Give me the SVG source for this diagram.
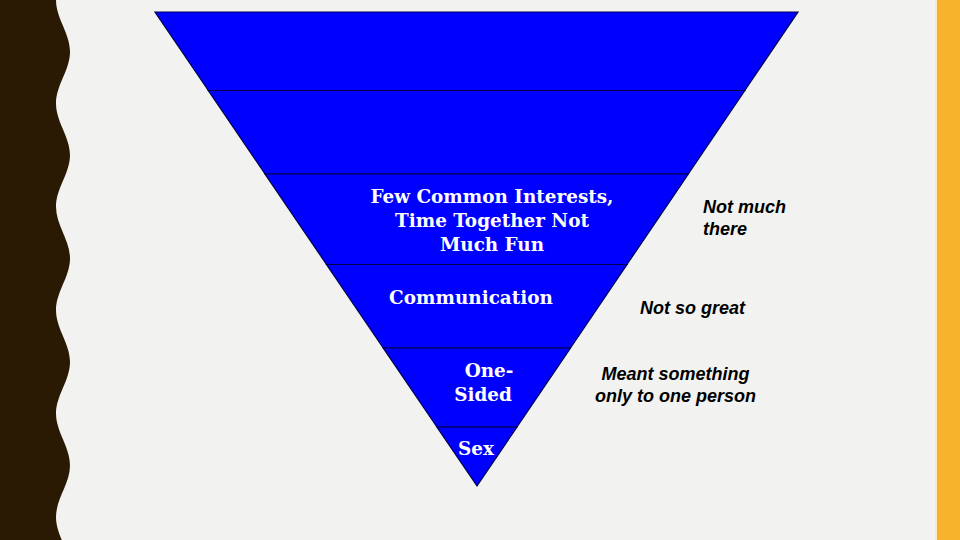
<svg xmlns="http://www.w3.org/2000/svg" width="960" height="540" viewBox="0 0 960 540">
  <style>
    .band { fill: #0000FF; stroke: #00004A; stroke-width: 1.2; stroke-linejoin: miter; }
    .in { font-family: "DejaVu Serif", "Liberation Serif", serif; font-weight: bold; font-size: 18.4px; fill: #FFFFFF; text-anchor: middle; }
    .out { font-family: "Liberation Sans", Arial, sans-serif; font-weight: bold; font-style: italic; font-size: 18px; fill: #000000; }
  </style>
  <rect x="0" y="0" width="960" height="540" fill="#F2F2F0"/>
  <path id="left-wave" fill="#2A1A04" d="M0,0 H56 C56,18.6 70,33.1 70,51.7 S56,84.8 56,103.4 S70,136.5 70,155.1 S56,188.2 56,206.8 S70,239.9 70,258.5 S56,291.6 56,310.2 S70,343.3 70,361.9 S56,395 56,413.6 S70,446.7 70,465.3 S56,498.4 56,517 S70,550.1 70,568.7 V540 H0 Z"/>
  <rect x="935" y="0" width="2" height="540" fill="#FBEBC2"/>
  <rect x="937" y="0" width="23" height="540" fill="#F7B32B"/>

  <g id="band-1">
    <polygon class="band" points="155,12 798,12 744.8,90.5 208.3,90.5"/>
  </g>
  <g id="band-2">
    <polygon class="band" points="208.3,90.5 744.8,90.5 688.3,174 265,174"/>
  </g>
  <g id="band-3">
    <polygon class="band" points="265,174 688.3,174 627,264.5 326.5,264.5"/>
    <text class="in" x="492" y="203">Few Common Interests,</text>
    <text class="in" x="492" y="227">Time Together Not</text>
    <text class="in" x="492" y="251">Much Fun</text>
  </g>
  <g id="band-4">
    <polygon class="band" points="326.5,264.5 627,264.5 570.5,348 383.2,348"/>
    <text class="in" x="471" y="304">Communication</text>
  </g>
  <g id="band-5">
    <polygon class="band" points="383.2,348 570.5,348 517,427 436.9,427"/>
    <text class="in" x="489" y="377">One-</text>
    <text class="in" x="483" y="401">Sided</text>
  </g>
  <g id="band-6">
    <polygon class="band" points="436.9,427 517,427 477,486"/>
    <text class="in" x="476" y="455">Sex</text>
  </g>

  <g id="label-not-much">
    <text class="out" x="703" y="213">Not much</text>
    <text class="out" x="703" y="235">there</text>
  </g>
  <g id="label-not-so-great">
    <text class="out" x="640" y="314">Not so great</text>
  </g>
  <g id="label-meant">
    <text class="out" x="675.5" y="380" text-anchor="middle">Meant something</text>
    <text class="out" x="675.5" y="402" text-anchor="middle">only to one person</text>
  </g>
  <g id="connectors"/>
</svg>
